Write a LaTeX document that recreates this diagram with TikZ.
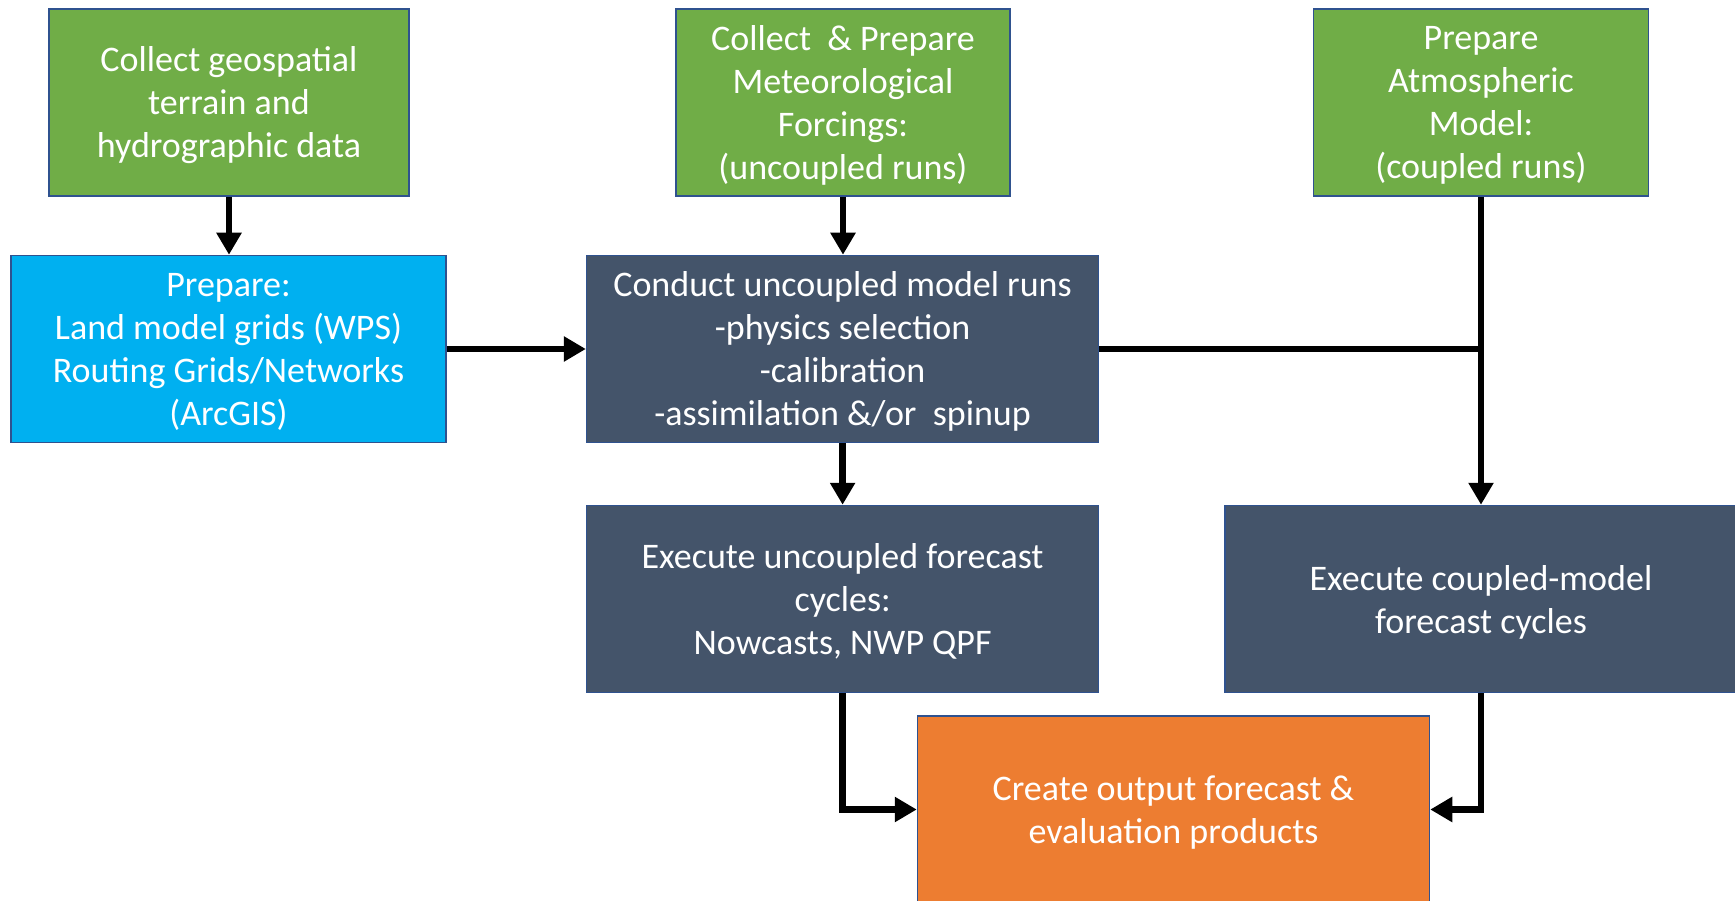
\documentclass[tikz,border=0pt]{standalone}
\usepackage{fontspec}
\setmainfont{Carlito}
\usetikzlibrary{arrows.meta}
\definecolor{cgreen}{HTML}{70AD47}
\definecolor{cblue}{HTML}{00B0F0}
\definecolor{cslate}{HTML}{44546A}
\definecolor{corange}{HTML}{ED7D31}
\definecolor{cborder}{HTML}{2F528F}
\tikzset{
  box/.style={draw=cborder, line width=1.5pt, rectangle, minimum height=187pt, inner sep=0pt,
    text=white, align=center, font=\fontsize{36}{43}\selectfont, text depth=0pt},
  conn/.style={line width=6.5pt, draw=black},
  arr/.style={conn, -{Triangle[length=22pt,width=24pt]}}
}
\begin{document}
\begin{tikzpicture}[x=1pt,y=-1pt]
\useasboundingbox (0,0) rectangle (1735,901);
\node[box, fill=cgreen, minimum width=360pt] (A) at (229,102.4) {Collect geospatial\\terrain and\\hydrographic data};
\node[box, fill=cblue, minimum width=435pt] (B) at (228.5,349) {Prepare:\\Land model grids (WPS)\\Routing Grids/Networks\\(ArcGIS)};
\node[box, fill=cgreen, minimum width=334pt] (C) at (843,102.4) {Collect \ \& Prepare\\Meteorological\\Forcings:\\(uncoupled runs)};
\node[box, fill=cgreen, minimum width=335pt] (D) at (1481,102.4) {Prepare\\Atmospheric\\Model:\\(coupled runs)};
\node[box, fill=cslate, minimum width=512pt] (E) at (842.6,349) {Conduct uncoupled model runs\\-physics selection\\-calibration\\-assimilation \&/or \ spinup};
\node[box, fill=cslate, minimum width=512pt] (F) at (842.6,599) {Execute uncoupled forecast\\cycles:\\Nowcasts, NWP QPF};
\node[box, fill=cslate, minimum width=512pt] (G) at (1481,599) {Execute coupled-model\\forecast cycles};
\node[box, fill=corange, minimum width=512pt] (H) at (1173.5,809.5) {Create output forecast \&\\evaluation products};
\coordinate (J) at (D.south |- E.east);
\draw[arr] (A.south) -- (A.south |- B.north);
\draw[arr] (C.south) -- (C.south |- E.north);
\draw[arr] (B.east) -- (E.west);
\draw[arr] (E.south) -- (F.north);
\draw[arr] (D.south) -- (G.north);
\draw[conn] (E.east) -- ([xshift=3.25pt]J);
\draw[arr] (F.south) |- (H.west);
\draw[arr] (G.south) |- (H.east);
\end{tikzpicture}
\end{document}
